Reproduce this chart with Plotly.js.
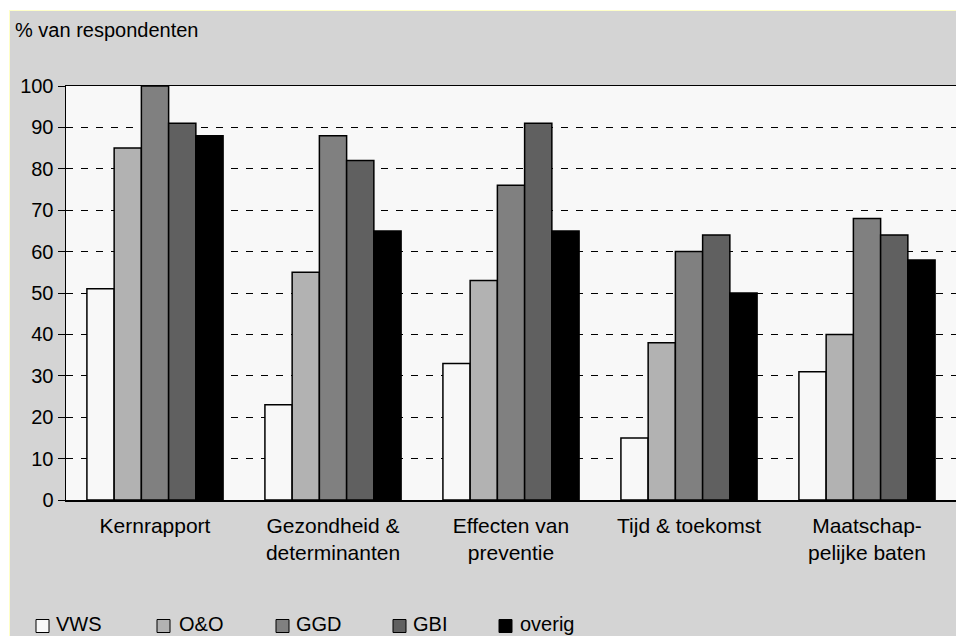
<!DOCTYPE html>
<html>
<head>
<meta charset="utf-8">
<script src="https://cdn.plot.ly/plotly-3.0.1.min.js"></script>
<style>
  html, body { margin: 0; padding: 0; background: #ffffff; overflow: hidden; }
  #wrap { position: absolute; left: 9px; top: 10px; width: 947px; height: 626px;
          border-left: 1px solid #ffffc8; border-top: 1px solid #ffffc8; }
  #chart { width: 947px; height: 626px; }
</style>
</head>
<body>
<div id="wrap"><div id="chart"></div></div>
<script>
const categories = ["Kernrapport", "Gezondheid &<br>determinanten", "Effecten van<br>preventie", "Tijd & toekomst", "Maatschap-<br>pelijke baten"];
const seriesNames = ["VWS", "O&O", "GGD", "GBI", "overig"];
const VWS    = [51, 23, 33, 15, 31];
const OenO   = [85, 55, 53, 38, 40];
const GGD    = [100, 88, 76, 60, 68];
const GBI    = [91, 82, 91, 64, 64];
const overig = [88, 65, 65, 50, 58];
const yTicks = [0, 10, 20, 30, 40, 50, 60, 70, 80, 90, 100];

const seriesValues = [VWS, OenO, GGD, GBI, overig];
const colors = ["#f8f8f8", "#b2b2b2", "#808080", "#606060", "#000000"];

const FONT = "Liberation Sans, Arial, sans-serif";
const W = 947, H = 626;
const M = { l: 56, r: 1, t: 75, b: 137 };
const plotW = W - M.l - M.r;
const plotH = H - M.t - M.b;

// legend item positions (pixels within the chart div)
const legendSquareX = [26, 147, 266, 383, 489];
const legendTextX   = [44, 167, 284, 401, 508];
const legendCenterY = 613;   // pixels from top of div
const sq = 13;

const px2x = p => (p - M.l) / plotW;
const px2y = p => (H - M.b - p) / plotH;

const traces = seriesNames.map((n, i) => ({
  type: "bar",
  name: n,
  x: categories,
  y: seriesValues[i],
  marker: { color: colors[i], line: { color: "#000000", width: 1.5 } },
  hoverinfo: "none",
  showlegend: false
}));

const shapes = seriesNames.map((n, i) => ({
  type: "rect", xref: "paper", yref: "paper",
  x0: px2x(legendSquareX[i]), x1: px2x(legendSquareX[i] + sq),
  y0: px2y(legendCenterY + 2 + sq / 2), y1: px2y(legendCenterY + 2 - sq / 2),
  fillcolor: colors[i], line: { color: "#000000", width: 1 }
}));

const annotations = seriesNames.map((n, i) => ({
  text: n, xref: "paper", yref: "paper",
  x: px2x(legendTextX[i]), y: px2y(legendCenterY),
  xanchor: "left", yanchor: "middle", showarrow: false,
  font: { family: FONT, size: 20, color: "#000000" }
}));

annotations.push({
  text: "% van respondenten",
  xref: "paper", yref: "paper",
  x: px2x(3), y: px2y(19),
  xanchor: "left", yanchor: "middle",
  showarrow: false,
  font: { family: FONT, size: 20, color: "#000000" }
});

const layout = {
  width: W, height: H,
  margin: Object.assign({ autoexpand: false }, M),
  paper_bgcolor: "#d4d4d4",
  plot_bgcolor: "#f8f8f8",
  barmode: "group",
  bargap: 0.235,
  bargroupgap: 0,
  font: { family: FONT, size: 20, color: "#000000" },
  showlegend: false,
  xaxis: {
    type: "category",
    showgrid: false,
    showline: true, linecolor: "#000000", linewidth: 1.5, mirror: true,
    ticks: "",
    ticklabelstandoff: 6,
    tickfont: { family: FONT, size: 21, color: "#000000" },
    automargin: false,
    fixedrange: true
  },
  yaxis: {
    range: [0, 100],
    tickvals: yTicks,
    ticktext: yTicks.map(String),
    showgrid: true, gridcolor: "#000000", gridwidth: 1, griddash: "7px,8px",
    showline: true, linecolor: "#000000", linewidth: 1.5, mirror: true,
    ticks: "outside", ticklen: 7, tickcolor: "#000000", tickwidth: 1,
    tickfont: { family: FONT, size: 20, color: "#000000" },
    zeroline: false,
    automargin: false,
    fixedrange: true
  },
  shapes: shapes,
  annotations: annotations
};

Plotly.newPlot("chart", traces, layout, { staticPlot: true, displayModeBar: false });
</script>
</body>
</html>
